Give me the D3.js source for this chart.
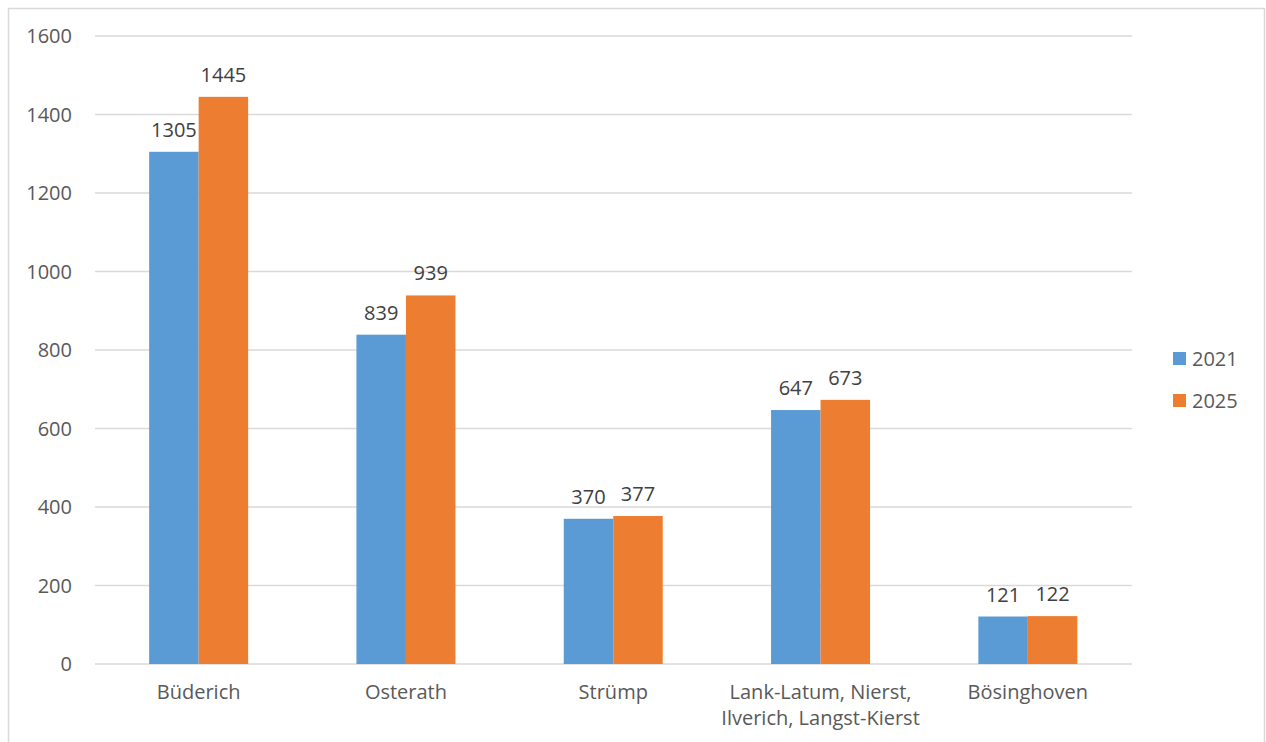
<!DOCTYPE html>
<html>
<head>
<meta charset="utf-8">
<script src="https://cdn.jsdelivr.net/npm/d3@7"></script>
<style>
  body { margin: 0; background: #fff; }
  text { font-family: "Open Sans", sans-serif; }
</style>
</head>
<body>
<div id="chart"></div>
<script>
// Data
const categories = ["Büderich", "Osterath", "Strümp", "Lank-Latum, Nierst,|Ilverich, Langst-Kierst", "Bösinghoven"];
const years = ["2021", "2025"];
const values2021 = [1305, 839, 370, 647, 121];
const values2025 = [1445, 939, 377, 673, 122];
const yTicks = [0, 200, 400, 600, 800, 1000, 1200, 1400, 1600];
const colors = ["#5b9bd5", "#ed7d31"];

const width = 1266;
const height = 742;
const margin = { top: 36, right: 134, bottom: 78, left: 95 };
const fontSize = "20px";

const svg = d3.select("#chart")
  .append("svg")
    .attr("width", width)
    .attr("height", height);

// outer frame
svg.append("rect")
  .attr("x", 8.5)
  .attr("y", 8.5)
  .attr("width", 1256)
  .attr("height", 760)
  .attr("fill", "none")
  .attr("stroke", "#d9d9d9")
  .attr("stroke-width", 1.5);

const x = d3.scaleBand()
  .domain(categories)
  .range([margin.left, width - margin.right - 0.5]);

const y = d3.scaleLinear()
  .domain([0, 1600])
  .range([height - margin.bottom, margin.top]);

const barWidth = 49.5;

// gridlines
svg.append("g")
  .selectAll("line")
  .data(yTicks)
  .join("line")
    .attr("x1", margin.left)
    .attr("x2", width - margin.right)
    .attr("y1", d => y(d))
    .attr("y2", d => y(d))
    .attr("stroke", "#d9d9d9")
    .attr("stroke-width", 1.3);

// y labels
svg.append("g")
  .selectAll("text")
  .data(yTicks)
  .join("text")
    .attr("x", 72)
    .attr("y", d => y(d))
    .attr("dy", "0.35em")
    .attr("text-anchor", "end")
    .attr("fill", "#595959")
    .style("font-size", fontSize)
    .text(d => d);

const series = [values2021, values2025];

series.forEach((vals, si) => {
  const g = svg.append("g");
  const xOff = d => x(d) + x.bandwidth() / 2 - barWidth + si * barWidth;

  g.selectAll("rect")
    .data(categories)
    .join("rect")
      .attr("x", xOff)
      .attr("y", (d, i) => y(vals[i]))
      .attr("width", barWidth)
      .attr("height", (d, i) => y(0) - y(vals[i]))
      .attr("fill", colors[si]);

  g.selectAll("text")
    .data(categories)
    .join("text")
      .attr("x", d => xOff(d) + barWidth / 2)
      .attr("y", (d, i) => y(vals[i]) - 15)
      .attr("text-anchor", "middle")
      .attr("fill", "#404040")
      .style("font-size", fontSize)
      .text((d, i) => vals[i]);
});

// x labels
const xl = svg.append("g")
  .selectAll("text")
  .data(categories)
  .join("text")
    .attr("x", d => x(d) + x.bandwidth() / 2)
    .attr("y", 699)
    .attr("text-anchor", "middle")
    .attr("fill", "#595959")
    .style("font-size", fontSize);

xl.selectAll("tspan")
  .data(d => d.split("|"))
  .join("tspan")
    .attr("x", function() { return d3.select(this.parentNode).attr("x"); })
    .attr("dy", (d, i) => i === 0 ? 0 : 26)
    .text(d => d);

// legend
const legend = svg.append("g")
  .selectAll("g")
  .data(years)
  .join("g")
    .attr("transform", (d, i) => `translate(1173, ${352 + i * 42})`);

legend.append("rect")
  .attr("width", 13)
  .attr("height", 13)
  .attr("fill", (d, i) => colors[i]);

legend.append("text")
  .attr("x", 19)
  .attr("y", 13.5)
  .attr("fill", "#595959")
  .style("font-size", fontSize)
  .text(d => d);
</script>
</body>
</html>
